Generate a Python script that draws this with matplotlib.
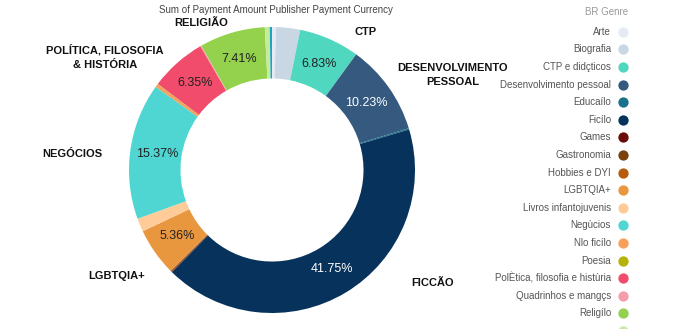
import matplotlib.pyplot as plt
import numpy as np

plt.rcParams['font.family'] = ['Liberation Sans', 'DejaVu Sans']

# share of payments per genre (%), clockwise from 12 o'clock
genres = ["Arte", "Biografia", "CTP e didçticos", "Desenvolvimento pessoal",
          "Educaílo", "Ficílo", "Games", "Gastronomia", "Hobbies e DYI",
          "LGBTQIA+", "Livros infantojuvenis", "Negùcios", "Nlo ficílo",
          "Poesia", "PolÈtica, filosofia e histùria", "Quadrinhos e mangçs",
          "Religílo", "Romance", "Saúde"]
shares = [0.45, 2.7, 6.83, 10.23, 0.15, 41.75, 0.05, 0.1, 0.1, 5.36, 1.5,
          15.37, 0.35, 0.05, 6.35, 0.1, 7.41, 0.55, 0.25]
colors = ["#e4ebf3", "#c9d6e4", "#4fd8bf", "#35597f", "#17738a", "#06325c",
          "#6a0a0a", "#7b400b", "#b65d0c", "#e9973f", "#ffcc99", "#4fd6d2",
          "#f6a05a", "#b5b30a", "#f24c6c", "#f59eab", "#94d14c", "#c6eb9c",
          "#1aa6c2"]
n_legend = 17  # legend is cut off after Religião

# outside category labels (pixel positions)
cat_labels = ["CTP", "DESENVOLVIMENTO\nPESSOAL", "FICCÃO", "LGBTQIA+",
              "NEGÓCIOS", "POLÍTICA, FILOSOFIA\n& HISTÓRIA", "RELIGIÃO"]
cat_xy = [(366, 32), (453, 75), (433, 283), (117, 276), (72, 154),
          (105, 57), (201, 23)]

W, H = 695, 329
fig = plt.figure(figsize=(W / 100, H / 100), dpi=100)

cx, cy, R = 272, 170, 143
pax = fig.add_axes([(cx - R) / W, (H - cy - R) / H, 2 * R / W, 2 * R / H])
wedges, _ = pax.pie(shares, colors=colors, startangle=90, counterclock=False,
                    radius=1, wedgeprops=dict(width=0.36, linewidth=0))
pax.set_xlim(-1, 1)
pax.set_ylim(-1, 1)
pax.axis("off")

dark = {"#35597f", "#06325c"}
for w, v, c in zip(wedges, shares, colors):
    if v < 5:
        continue
    a = np.deg2rad((w.theta1 + w.theta2) / 2)
    r = 0.81
    pax.text(r * np.cos(a), r * np.sin(a), f"{v:.2f}%", ha="center",
             va="center", fontsize=9,
             color="white" if c in dark else "#222222")

ov = fig.add_axes([0, 0, 1, 1], zorder=-1)
ov.set_xlim(0, W)
ov.set_ylim(H, 0)
ov.axis("off")

ov.text(276, 10, "Sum of Payment Amount Publisher Payment Currency",
        ha="center", va="center", fontsize=7, color="#444444")

for lab, (x, y) in zip(cat_labels, cat_xy):
    ov.text(x, y, lab, ha="center", va="center", fontsize=8,
            fontweight="bold", color="#111111", linespacing=1.55,
            multialignment="center")

# legend
ov.text(628, 12, "BR Genre", ha="right", va="center", fontsize=7,
        color="#999999")
y0, dy = 31.7, 17.6
for i in range(n_legend + 1):
    y = y0 + i * dy
    ov.scatter(623, y, s=55, color=colors[i], linewidths=0, clip_on=False)
    if i < n_legend:
        ov.text(611, y, genres[i], ha="right", va="center", fontsize=7,
                color="#555555")

fig.savefig("out.png", dpi=100)
